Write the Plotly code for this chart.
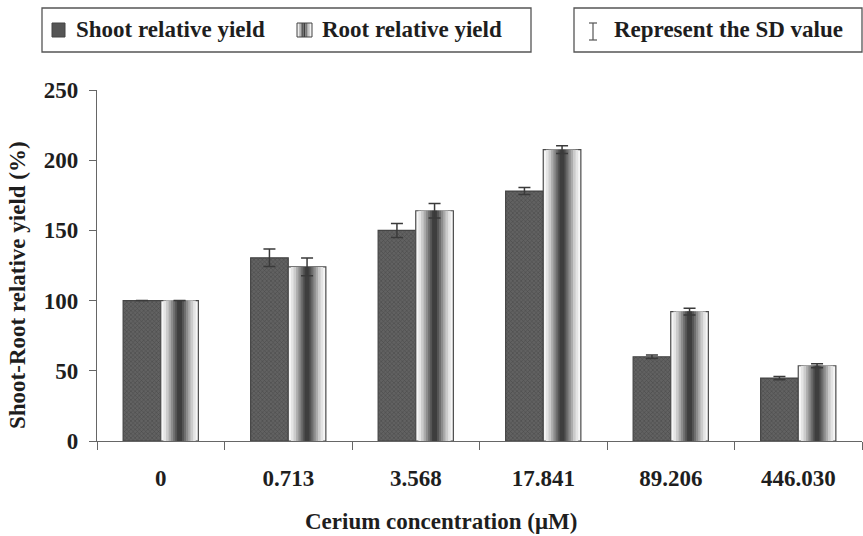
import plotly.graph_objects as go

# Cerium treatments and relative yields (% of control)
concentrations = ["0", "0.713", "3.568", "17.841", "89.206", "446.030"]
shoot_yield = [100, 130.5, 150, 178, 60, 44.8]
shoot_sd = [0, 6.3, 5.0, 2.5, 1.2, 1.2]
root_yield = [100, 124, 164, 207.5, 92.2, 53.6]
root_sd = [0, 6.3, 5.2, 2.8, 2.4, 1.5]

FONT = "Liberation Serif"
TXT = "#1e1e1e"
BAR_W = 0.295  # width of one bar, in category units

# plot-area geometry in pixels (used for the header boxes)
L, R, T, B = 97, 862, 90, 441


def px(x):
    return (x - L) / (R - L)


def py(y):
    return (B - y) / (B - T)


fig = go.Figure()

# Shoot bars: dark stippled fill
fig.add_trace(go.Bar(
    x=concentrations, y=shoot_yield,
    offset=-BAR_W, width=BAR_W,
    marker=dict(
        color="#555555",
        line=dict(color="#444444", width=1.2),
        pattern=dict(shape="x", size=3, solidity=0.35,
                     fgcolor="#303030", bgcolor="#626262"),
    ),
    error_y=dict(type="data", array=shoot_sd, visible=True,
                 color="#3a3a3a", thickness=1.5, width=6),
    showlegend=False, hoverinfo="skip",
))

# Root bars: cylinder shading built from nested bars (light edges, dark core)
layer_frac = [1.0, 0.86, 0.72, 0.58, 0.46, 0.34, 0.23, 0.13]
layer_col = ["#f6f6f6", "#e4e4e4", "#cbcbcb", "#ababab",
             "#8c8c8c", "#6e6e6e", "#545454", "#3e3e3e"]
for i, (f, c) in enumerate(zip(layer_frac, layer_col)):
    w = BAR_W * f
    last = i == len(layer_frac) - 1
    fig.add_trace(go.Bar(
        x=concentrations, y=root_yield,
        offset=(BAR_W - w) / 2, width=w,
        marker=dict(color=c,
                    line=dict(color="#4a4a4a" if i == 0 else c,
                              width=1.2 if i == 0 else 0)),
        error_y=dict(type="data", array=root_sd, visible=last,
                     color="#3a3a3a", thickness=1.5, width=6),
        showlegend=False, hoverinfo="skip",
    ))

shapes = []
annotations = []

# Header box 1: series key
shapes.append(dict(type="rect", xref="paper", yref="paper",
                   x0=px(42), x1=px(531), y0=py(52), y1=py(8),
                   line=dict(color="#555555", width=1.3)))
shapes.append(dict(type="rect", xref="paper", yref="paper",
                   x0=px(52), x1=px(65), y0=py(37), y1=py(23),
                   fillcolor="#555555", line=dict(color="#444444", width=1)))
annotations.append(dict(xref="paper", yref="paper", x=px(74), y=py(30),
                        xanchor="left", yanchor="middle", showarrow=False,
                        text="<b>Shoot relative yield</b>",
                        font=dict(family=FONT, size=23, color=TXT)))
stripe_cols = ["#eeeeee", "#b5b5b5", "#5a5a5a", "#3e3e3e", "#7a7a7a", "#c4c4c4", "#f2f2f2"]
x_start = 297
for k, c in enumerate(stripe_cols):
    shapes.append(dict(type="rect", xref="paper", yref="paper",
                       x0=px(x_start + k * 15 / 7), x1=px(x_start + (k + 1) * 15 / 7),
                       y0=py(37), y1=py(23), fillcolor=c, line=dict(width=0)))
shapes.append(dict(type="rect", xref="paper", yref="paper",
                   x0=px(297), x1=px(312), y0=py(37), y1=py(23),
                   line=dict(color="#444444", width=1)))
annotations.append(dict(xref="paper", yref="paper", x=px(320), y=py(30),
                        xanchor="left", yanchor="middle", showarrow=False,
                        text="<b>Root relative yield</b>",
                        font=dict(family=FONT, size=23, color=TXT)))

# Header box 2: error-bar key
shapes.append(dict(type="rect", xref="paper", yref="paper",
                   x0=px(574), x1=px(862), y0=py(52), y1=py(8),
                   line=dict(color="#555555", width=1.3)))
for x0, y0, x1, y1 in [(593, 23, 593, 40), (589, 23, 597, 23), (589, 40, 597, 40)]:
    shapes.append(dict(type="line", xref="paper", yref="paper",
                       x0=px(x0), x1=px(x1), y0=py(y0), y1=py(y1),
                       line=dict(color="#555555", width=1.2)))
annotations.append(dict(xref="paper", yref="paper", x=px(612), y=py(30),
                        xanchor="left", yanchor="middle", showarrow=False,
                        text="<b>Represent the SD value</b>",
                        font=dict(family=FONT, size=23, color=TXT)))

# Axis titles
annotations.append(dict(xref="paper", yref="paper", x=px(441), y=py(521),
                        xanchor="center", yanchor="middle", showarrow=False,
                        text="<b>Cerium concentration (μM)</b>",
                        font=dict(family=FONT, size=23, color=TXT)))
annotations.append(dict(xref="paper", yref="paper", x=px(17), y=py(285),
                        xanchor="center", yanchor="middle", showarrow=False,
                        textangle=-90,
                        text="<b>Shoot-Root relative yield (%)</b>",
                        font=dict(family=FONT, size=23, color=TXT)))

fig.update_layout(
    width=863, height=536,
    margin=dict(l=L, r=863 - R, t=T, b=536 - B),
    paper_bgcolor="white", plot_bgcolor="white",
    barmode="overlay",
    shapes=shapes, annotations=annotations,
    xaxis=dict(
        type="category", tickson="boundaries",
        ticks="outside", ticklen=8, tickcolor="#666666", tickwidth=1.3,
        showline=True, linecolor="#666666", linewidth=1.3,
        showgrid=False, zeroline=False,
        tickfont=dict(family=FONT, size=23, color=TXT, weight="bold"),
        ticklabelstandoff=16,
    ),
    yaxis=dict(
        range=[0, 250], dtick=50,
        ticks="outside", ticklen=7, tickcolor="#666666", tickwidth=1.3,
        showline=True, linecolor="#666666", linewidth=1.3,
        showgrid=False, zeroline=False,
        tickfont=dict(family=FONT, size=23, color=TXT, weight="bold"),
        ticklabelstandoff=6,
    ),
)

fig.write_html("out.html")
